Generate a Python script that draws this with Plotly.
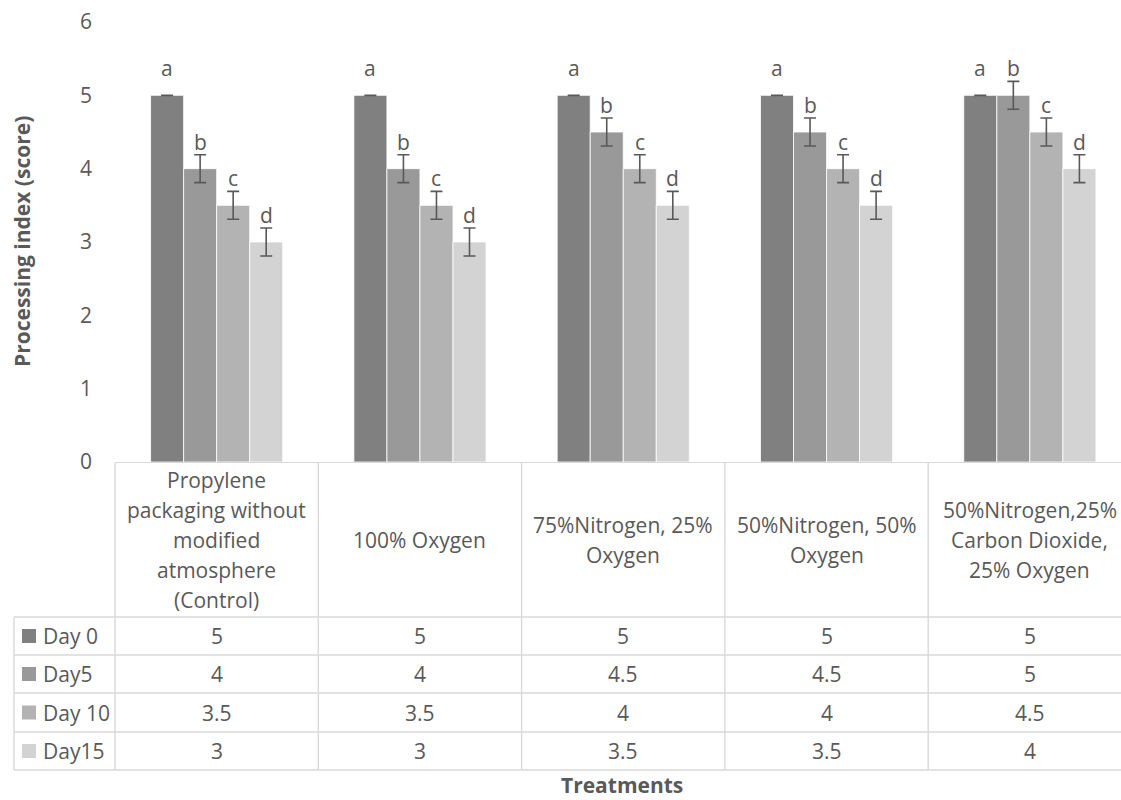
import plotly.graph_objects as go

# ---- data -------------------------------------------------------------
treatments = [
    ["Propylene", "packaging without", "modified", "atmosphere", "(Control)"],
    ["100% Oxygen"],
    ["75%Nitrogen, 25%", "Oxygen"],
    ["50%Nitrogen, 50%", "Oxygen"],
    ["50%Nitrogen,25%", "Carbon Dioxide,", "25% Oxygen"],
]
series_names = ["Day 0", "Day5", "Day 10", "Day15"]
day0 = [5, 5, 5, 5, 5]
day5 = [4, 4, 4.5, 4.5, 5]
day10 = [3.5, 3.5, 4, 4, 4.5]
day15 = [3, 3, 3.5, 3.5, 4]
err_day0 = [0, 0, 0, 0, 0]
err_day5 = [0.19, 0.19, 0.19, 0.19, 0.19]
err_day10 = [0.19, 0.19, 0.19, 0.19, 0.19]
err_day15 = [0.19, 0.19, 0.19, 0.19, 0.19]
letters_day0 = ["a", "a", "a", "a", "a"]
letters_day5 = ["b", "b", "b", "b", "b"]
letters_day10 = ["c", "c", "c", "c", "c"]
letters_day15 = ["d", "d", "d", "d", "d"]
y_ticks = [0, 1, 2, 3, 4, 5, 6]

values = [day0, day5, day10, day15]
errors = [err_day0, err_day5, err_day10, err_day15]
letters = [letters_day0, letters_day5, letters_day10, letters_day15]
colors = ["#808080", "#999999", "#b3b3b3", "#d3d3d3"]

# ---- geometry ---------------------------------------------------------
W, H = 1121, 800
ML, MR, MT, MB = 115, 0, 22, 338
PW = W - ML - MR
PH = H - MT - MB
CAT_W = 203.3                      # pixel width of one category
X_RANGE = [-0.5, -0.5 + PW / CAT_W]
BARGAP = 0.35
TXT = "#595959"
GRID = "#d9d9d9"
FONT = "Open Sans"
FS = 21


def px(p):
    return (p - ML) / PW


def py(p):
    return (MT + PH - p) / PH


x_labels = [" ".join(t) for t in treatments]
fig = go.Figure()
for name, vals, errs, col in zip(series_names, values, errors, colors):
    fig.add_trace(go.Bar(
        x=x_labels, y=vals, name=name,
        marker=dict(color=col, line=dict(color="#ffffff", width=0.8)),
        error_y=dict(type="data", array=errs, visible=True,
                     color="#595959", thickness=1.6, width=6),
        showlegend=False,
    ))

ann = []
shapes = []

# significance letters above each bar
n_series = len(series_names)
bar_w = (1 - BARGAP) / n_series
for s in range(n_series):
    off = -(1 - BARGAP) / 2 + bar_w * (s + 0.5)
    for i, v in enumerate(values[s]):
        ann.append(dict(x=i + off, y=v, xref="x", yref="y", text=letters[s][i],
                        showarrow=False, yanchor="bottom", yshift=11,
                        font=dict(family=FONT, size=FS, color=TXT)))

# ---- data table under the chart --------------------------------------
HEAD_TOP, HEAD_BOT = 463, 617
row_edges = [617, 655, 693, 732, 770]
LEFT = 14
RIGHT = W + 20
n_cat = len(treatments)

line = dict(color=GRID, width=1.4)
# horizontal rules
for r in row_edges:
    shapes.append(dict(type="line", xref="paper", yref="paper",
                       x0=px(LEFT), x1=px(RIGHT), y0=py(r), y1=py(r), line=line))
# vertical rules
shapes.append(dict(type="line", xref="paper", yref="paper",
                   x0=px(LEFT), x1=px(LEFT), y0=py(row_edges[0]), y1=py(row_edges[-1]), line=line))
for i in range(n_cat + 1):
    xp = ML + i * CAT_W
    if xp > W:
        break
    shapes.append(dict(type="line", xref="paper", yref="paper",
                       x0=px(xp), x1=px(xp), y0=py(HEAD_TOP), y1=py(row_edges[-1]), line=line))

# category headers, one line at a time
head_mid = (HEAD_TOP + HEAD_BOT) / 2
for i, lines in enumerate(treatments):
    n = len(lines)
    for k, txt in enumerate(lines):
        yc = head_mid + (k - (n - 1) / 2) * 30
        ann.append(dict(x=i, y=py(yc), xref="x", yref="paper", text=txt,
                        showarrow=False, yanchor="middle", xanchor="center",
                        font=dict(family=FONT, size=FS, color=TXT)))

# value rows with legend keys
for s in range(n_series):
    yc = (row_edges[s] + row_edges[s + 1]) / 2
    shapes.append(dict(type="rect", xref="paper", yref="paper",
                       x0=px(22), x1=px(36), y0=py(yc - 7), y1=py(yc + 7),
                       fillcolor=colors[s], line=dict(width=0)))
    ann.append(dict(x=px(41), y=py(yc), xref="paper", yref="paper", text=series_names[s],
                    showarrow=False, xanchor="left", yanchor="middle",
                    font=dict(family=FONT, size=FS, color=TXT)))
    for i, v in enumerate(values[s]):
        ann.append(dict(x=i, y=py(yc), xref="x", yref="paper", text=f"{v:g}",
                        showarrow=False, xanchor="center", yanchor="middle",
                        font=dict(family=FONT, size=FS, color=TXT)))

# axis titles
ann.append(dict(x=px(22), y=0.5, xref="paper", yref="paper",
                text="<b>Processing index (score)</b>", textangle=-90,
                showarrow=False, xanchor="center", yanchor="middle",
                font=dict(family=FONT, size=FS, color=TXT)))
ann.append(dict(x=px(622), y=py(799.5), xref="paper", yref="paper",
                text="<b>Treatments</b>", borderpad=0,
                showarrow=False, xanchor="center", yanchor="bottom",
                font=dict(family=FONT, size=FS, color=TXT)))

fig.update_layout(
    width=W, height=H,
    margin=dict(l=ML, r=MR, t=MT, b=MB, autoexpand=False),
    paper_bgcolor="white", plot_bgcolor="white",
    barmode="group", bargap=BARGAP, bargroupgap=0,
    font=dict(family=FONT, size=FS, color=TXT),
    xaxis=dict(range=X_RANGE, showticklabels=False, ticks="", showgrid=False,
               zeroline=False, showline=True, linecolor=GRID, linewidth=1.4),
    yaxis=dict(range=[0, 6], tickvals=y_ticks, showgrid=False, zeroline=False,
               showline=False, ticks="", ticklabelstandoff=22,
               tickfont=dict(family=FONT, size=FS, color=TXT)),
    annotations=ann, shapes=shapes,
)

fig.write_html("out.html")
